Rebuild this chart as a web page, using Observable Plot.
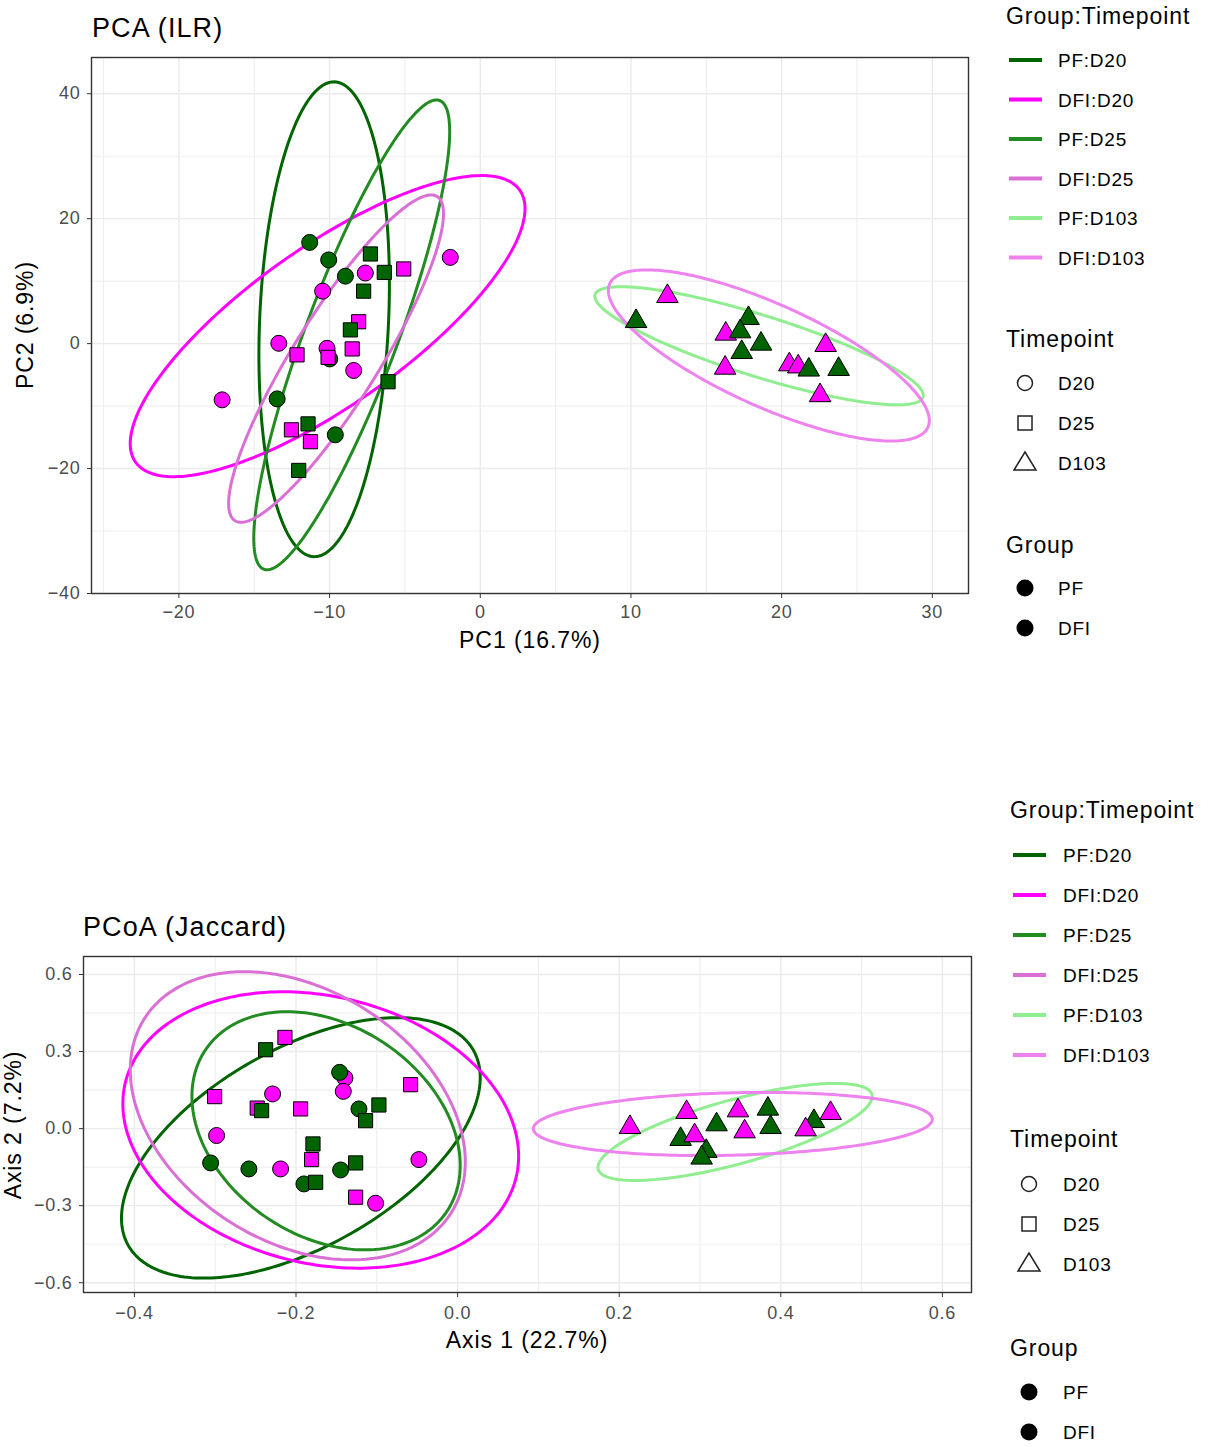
<!DOCTYPE html>
<html><head><meta charset="utf-8">
<script src="https://cdn.jsdelivr.net/npm/d3@7"></script>
<script src="https://cdn.jsdelivr.net/npm/@observablehq/plot@0.6"></script>
<style>
body{margin:0;background:#fff;font-family:"Liberation Sans",Arial,sans-serif;}
#page{position:relative;width:1216px;height:1447px;overflow:hidden;background:#fff;}
.t{position:absolute;white-space:nowrap;line-height:1;letter-spacing:0.04em;color:#000;}
svg text{letter-spacing:0.04em;}
.chart{position:absolute;left:0;}
</style></head><body><div id="page"></div>
<script>
// ---------- categories ----------
const groupTimepoints = ["PF:D20","DFI:D20","PF:D25","DFI:D25","PF:D103","DFI:D103"];
const ellipseColors   = ["#006400","#FF00FF","#228B22","#DA70D6","#90EE90","#EE82EE"];
const timepoints = ["D20","D25","D103"];
const groups = ["PF","DFI"];
const groupFill = ["#006400","#FF00FF"];

// ---------- PCA (ILR) sample scores [PC1, PC2] ----------
const pca_PF_D20   = [[-11.32,16.2],[-10.06,13.4],[-8.95,10.8],[-9.99,-2.45],[-13.48,-8.85],[-9.62,-14.6]];
const pca_DFI_D20  = [[-7.63,11.3],[-1.99,13.8],[-10.46,8.4],[-13.37,0.05],[-10.17,-0.75],[-8.4,-4.3],[-17.13,-9.0]];
const pca_PF_D25   = [[-7.29,14.35],[-6.37,11.4],[-7.74,8.4],[-8.62,2.2],[-6.12,-6.1],[-11.43,-12.85],[-12.05,-20.3]];
const pca_DFI_D25  = [[-5.08,11.95],[-8.07,3.5],[-12.16,-1.8],[-10.1,-2.2],[-8.5,-0.85],[-12.53,-13.8],[-11.27,-15.7]];
const pca_PF_D103  = [[10.34,3.57],[17.8,4.05],[17.24,1.92],[18.63,-0.05],[17.35,-1.39],[21.8,-4.2],[23.78,-4.1]];
const pca_DFI_D103 = [[12.42,7.57],[16.29,1.55],[16.25,-3.9],[22.92,-0.27],[20.51,-3.36],[21.1,-3.7],[22.55,-8.3]];
// ellipse outlines: [centerX, centerY, halfWidthX, halfHeightY, correlation]
const pca_ellipses = [
  [-10.36, 3.9, 4.33, 38.0, 0.15],
  [-10.13, 2.8, 13.1, 24.1, 0.78],
  [-8.53, 1.4, 6.5, 37.6, 0.865],
  [-9.57, -2.4, 7.13, 26.2, 0.885],
  [18.5, -0.35, 10.9, 9.45, -0.84],
  [19.15, -1.9, 10.65, 13.7, -0.76]
];
const pca_xMajor = [-20,-10,0,10,20,30], pca_xMinor = [-25,-15,-5,5,15,25];
const pca_yMajor = [-40,-20,0,20,40],   pca_yMinor = [-30,-10,10,30];

// ---------- PCoA (Jaccard) sample scores [Axis1, Axis2] ----------
const pcoa_PF_D20   = [[-0.146,0.219],[-0.1221,0.0766],[-0.3057,-0.1336],[-0.2583,-0.157],[-0.1448,-0.161],[-0.1902,-0.2153]];
const pcoa_DFI_D20  = [[-0.1394,0.197],[-0.1415,0.145],[-0.229,0.135],[-0.2983,-0.027],[-0.2191,-0.157],[-0.0479,-0.1206],[-0.1015,-0.2905]];
const pcoa_PF_D25   = [[-0.2376,0.307],[-0.2426,0.070],[-0.0974,0.092],[-0.1139,0.031],[-0.179,-0.0597],[-0.1262,-0.1336],[-0.1757,-0.209]];
const pcoa_DFI_D25  = [[-0.2137,0.355],[-0.0582,0.171],[-0.3007,0.1245],[-0.248,0.080],[-0.1943,0.0766],[-0.1807,-0.1206],[-0.1262,-0.267]];
const pcoa_PF_D103  = [[0.276,-0.0415],[0.3205,0.0156],[0.3078,-0.088],[0.302,-0.114],[0.384,0.0766],[0.3874,0.005],[0.441,0.0285]];
const pcoa_DFI_D103 = [[0.2133,0.005],[0.2834,0.0635],[0.2933,-0.027],[0.347,0.070],[0.3552,-0.0117],[0.4307,-0.004],[0.4616,0.0597]];
const pcoa_ellipses = [
  [-0.194, -0.075, 0.222, 0.507, 0.54],
  [-0.1694, -0.0053, 0.2449, 0.538, -0.19],
  [-0.1628, -0.0085, 0.166, 0.4635, -0.29],
  [-0.1978, 0.05, 0.2073, 0.561, -0.32],
  [0.3434, -0.013, 0.1697, 0.189, 0.73],
  [0.3406, 0.018, 0.2469, 0.123, 0.15]
];
const pcoa_xMajor = [-0.4,-0.2,0,0.2,0.4,0.6], pcoa_xMinor = [-0.3,-0.1,0.1,0.3,0.5];
const pcoa_yMajor = [-0.6,-0.3,0,0.3,0.6],     pcoa_yMinor = [-0.45,-0.15,0.15,0.45];

// ---------- helpers ----------
const page = document.getElementById("page");
function rows(arr, group, tp){ return arr.map(([x,y]) => ({x, y, group, tp})); }
function ellipsePath(p){
  const [cx,cy,W,H,rho] = p, phi = Math.acos(rho), out = [];
  for (let i = 0; i <= 240; i++){ const t = i/240*2*Math.PI; out.push({x: cx + W*Math.cos(t), y: cy + H*Math.cos(t - phi)}); }
  return out;
}
function addText(str, left, cy, size, mode){
  const d = document.createElement("div");
  d.className = "t"; d.textContent = str;
  d.style.left = left + "px"; d.style.top = cy + "px"; d.style.fontSize = size + "px";
  d.style.transform = mode === "center" ? "translate(-50%,-50%)" : mode === "rot" ? "translate(-50%,-50%) rotate(-90deg)" : "translateY(-50%)";
  page.appendChild(d);
}
function makeChart(c){
  const svg = Plot.plot({
    width: c.width, height: c.height,
    marginLeft: c.ml, marginRight: c.mr, marginTop: c.mt, marginBottom: c.mb,
    x: {domain: c.xDomain}, y: {domain: c.yDomain},
    color: {domain: groups, range: groupFill},
    symbol: {domain: timepoints, range: ["circle","square","triangle"]},
    style: {fontFamily: '"Liberation Sans", Arial, sans-serif', background: "white", overflow: "visible"},
    marks: [
      Plot.gridX(c.xMinor, {stroke: "#ebebeb", strokeOpacity: 1, strokeWidth: 0.9}),
      Plot.gridY(c.yMinor, {stroke: "#ebebeb", strokeOpacity: 1, strokeWidth: 0.9}),
      Plot.gridX(c.xMajor, {stroke: "#ebebeb", strokeOpacity: 1, strokeWidth: 1.4}),
      Plot.gridY(c.yMajor, {stroke: "#ebebeb", strokeOpacity: 1, strokeWidth: 1.4}),
      ...c.ellipses.map((e, i) => Plot.line(ellipsePath(e), {x: "x", y: "y", stroke: ellipseColors[i], strokeWidth: 3})),
      Plot.dot(c.points, {x: "x", y: "y", fill: "group", symbol: "tp", stroke: "black", strokeWidth: 1, r: 8}),
      Plot.frame({stroke: "#333333", strokeWidth: 1.4}),
      Plot.axisX(c.xMajor, {tickFormat: c.xFmt, tickSize: 5, tickPadding: c.xPad, fontSize: 18, fill: "#4d4d4d", stroke: "#333333", label: null}),
      Plot.axisY(c.yMajor, {tickFormat: c.yFmt, tickSize: 4, tickPadding: 7, fontSize: 18, fill: "#4d4d4d", stroke: "#333333", label: null})
    ]
  });
  svg.classList.add("chart");
  svg.style.top = c.top + "px";
  page.appendChild(svg);
}
function makeLegend(L){
  const ns = "http://www.w3.org/2000/svg";
  const s = document.createElementNS(ns, "svg");
  s.setAttribute("width", 1216); s.setAttribute("height", 1447);
  s.style.position = "absolute"; s.style.left = "0"; s.style.top = "0";
  const el = (tag, attrs) => { const e = document.createElementNS(ns, tag); for (const k in attrs) e.setAttribute(k, attrs[k]); s.appendChild(e); };
  addText("Group:Timepoint", L.titleLeft, L.gtTitle, 23);
  groupTimepoints.forEach((lab, i) => {
    const y = L.gtY0 + i*L.gtStep;
    el("line", {x1: L.k1, x2: L.k2, y1: y, y2: y, stroke: ellipseColors[i], "stroke-width": 4});
    addText(lab, L.textLeft, y, 19);
  });
  addText("Timepoint", L.titleLeft, L.tpTitle, 23);
  timepoints.forEach((lab, i) => {
    const y = L.tpY[i], x = L.symX;
    if (i === 0) el("circle", {cx: x, cy: y, r: 7.5, fill: "none", stroke: "#222", "stroke-width": 1.5});
    if (i === 1) el("rect", {x: x-7, y: y-7, width: 14, height: 14, fill: "none", stroke: "#222", "stroke-width": 1.5});
    if (i === 2) el("path", {d: `M${x},${y-11}L${x+11},${y+7}L${x-11},${y+7}Z`, fill: "none", stroke: "#222", "stroke-width": 1.5});
    addText(lab, L.textLeft, y, 19);
  });
  addText("Group", L.titleLeft, L.gTitle, 23);
  groups.forEach((lab, i) => {
    const y = L.gY[i];
    el("circle", {cx: L.symX, cy: y, r: 8.5, fill: "#000"});
    addText(lab, L.textLeft, y, 19);
  });
  page.appendChild(s);
}

// ---------- top chart: PCA (ILR) ----------
makeChart({
  top: 0, width: 990, height: 660, ml: 91, mr: 22, mt: 57, mb: 67, xPad: 7,
  xDomain: [-25.8, 32.4], yDomain: [-40, 45.8],
  xMajor: pca_xMajor, xMinor: pca_xMinor, yMajor: pca_yMajor, yMinor: pca_yMinor,
  xFmt: d3.format("d"), yFmt: d3.format("d"),
  ellipses: pca_ellipses,
  points: [
    ...rows(pca_PF_D20, "PF", "D20"), ...rows(pca_DFI_D20, "DFI", "D20"),
    ...rows(pca_DFI_D25, "DFI", "D25"), ...rows(pca_PF_D25, "PF", "D25"),
    ...rows(pca_DFI_D103, "DFI", "D103"), ...rows(pca_PF_D103, "PF", "D103")
  ]
});
addText("PCA (ILR)", 92, 28, 27);
addText("PC1 (16.7%)", 530, 640, 23, "center");
addText("PC2 (6.9%)", 25, 325, 23, "rot");
makeLegend({titleLeft: 1006, textLeft: 1058, k1: 1009, k2: 1042, symX: 1025,
  gtTitle: 16, gtY0: 60, gtStep: 39.5, tpTitle: 339, tpY: [383, 423, 463], gTitle: 545, gY: [588, 628]});

// ---------- bottom chart: PCoA (Jaccard) ----------
makeChart({
  top: 900, width: 990, height: 432, ml: 83, mr: 19, mt: 56, mb: 40, xPad: 9,
  xDomain: [-0.463, 0.636], yDomain: [-0.638, 0.67],
  xMajor: pcoa_xMajor, xMinor: pcoa_xMinor, yMajor: pcoa_yMajor, yMinor: pcoa_yMinor,
  xFmt: d3.format(".1f"), yFmt: d3.format(".1f"),
  ellipses: pcoa_ellipses,
  points: [
    ...rows(pcoa_DFI_D20, "DFI", "D20"), ...rows(pcoa_PF_D20, "PF", "D20"),
    ...rows(pcoa_DFI_D25, "DFI", "D25"), ...rows(pcoa_PF_D25, "PF", "D25"),
    ...rows(pcoa_PF_D103, "PF", "D103"), ...rows(pcoa_DFI_D103, "DFI", "D103")
  ]
});
addText("PCoA (Jaccard)", 83, 927, 27);
addText("Axis 1 (22.7%)", 527, 1340, 23, "center");
addText("Axis 2 (7.2%)", 13, 1125, 23, "rot");
makeLegend({titleLeft: 1010, textLeft: 1063, k1: 1013, k2: 1046, symX: 1029,
  gtTitle: 810, gtY0: 855, gtStep: 40, tpTitle: 1139, tpY: [1184, 1224, 1264], gTitle: 1348, gY: [1392, 1432]});
</script></body></html>
